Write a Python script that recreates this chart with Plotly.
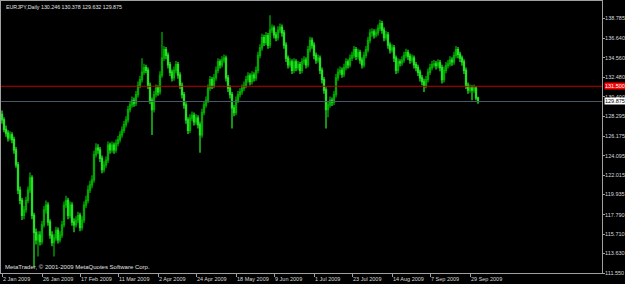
import plotly.graph_objects as go

# ---- data (bar index: daily bars incl. Sunday bars) ----
opens = [128.5,127.9,126.9,126.5,126.0,126.3,125.8,124.7,123.1,120.4,
         119.3,117.7,118.3,119.3,120.4,121.7,117.7,115.9,115.1,115.6,
         114.9,116.7,118.3,118.8,117.0,115.6,114.8,115.3,116.1,115.1,
         115.6,116.7,118.8,119.3,117.7,118.8,117.0,116.7,117.2,117.7,
         116.4,117.2,118.8,119.3,120.4,120.95,121.5,124.2,124.9,124.7,
         123.8,122.6,123.1,123.6,125.2,124.7,125.2,124.7,125.4,125.8,
         126.3,126.8,127.4,127.9,129.0,129.5,130.0,129.7,130.6,131.6,
         132.2,133.0,133.5,133.2,131.6,130.0,129.0,130.6,131.3,130.9,
         132.7,134.5,135.4,134.8,133.8,133.0,132.4,133.2,133.8,132.7,
         131.6,130.6,129.5,127.9,126.8,128.1,128.4,127.7,128.1,127.4,
         126.3,128.7,129.5,130.0,131.3,132.2,131.6,132.4,133.2,134.1,
         133.8,134.3,134.5,132.4,131.3,130.6,129.2,128.7,130.0,130.6,
         130.9,131.3,131.6,132.2,132.6,132.0,132.7,132.4,133.2,134.8,
         135.6,136.7,136.2,136.9,135.9,137.5,137.7,137.0,136.7,137.5,
         137.8,137.2,135.9,134.5,133.8,134.1,133.2,134.1,133.5,133.8,
         133.2,134.1,134.3,133.8,135.4,136.4,135.9,134.8,134.3,134.5,
         133.2,132.2,131.1,129.0,129.5,130.0,129.8,130.6,132.4,133.0,
         133.2,132.8,133.5,134.1,133.8,134.5,134.8,135.4,134.7,135.1,
         134.3,133.8,134.8,135.4,136.4,137.2,137.3,137.0,137.2,137.7,
         138.2,137.5,136.7,137.0,135.9,135.4,135.6,134.5,133.2,134.1,
         134.0,134.3,134.8,135.1,134.7,134.3,134.5,133.8,133.5,133.0,
         132.4,132.0,131.6,132.2,133.0,133.5,133.8,133.9,133.7,134.0,
         133.5,132.2,133.2,133.7,133.9,134.3,134.1,134.8,135.4,134.9,
         134.5,134.1,133.2,131.6,131.1,131.3,131.1,131.3,130.246]
highs = [128.9,128.2,127.3,126.8,126.7,126.6,126.1,125.0,123.4,120.8,
         119.6,118.7,119.7,120.8,122.3,122.0,118.0,116.3,116.0,116.0,
         117.1,118.7,119.3,119.1,117.3,116.0,115.7,116.5,116.4,116.0,
         117.1,119.2,119.8,119.6,119.2,119.1,117.4,117.6,118.1,118.0,
         117.6,119.2,119.8,120.9,121.4,122.0,124.6,125.4,125.3,125.0,
         124.1,123.5,124.0,125.6,125.5,125.6,125.5,125.8,126.2,126.7,
         127.2,127.8,128.3,129.4,129.9,130.4,130.3,131.0,132.0,132.6,
         134.5,133.9,133.8,133.5,131.9,130.3,131.0,131.7,131.6,133.1,
         137.3,135.8,135.7,135.1,134.1,133.3,133.6,134.2,134.1,133.0,
         131.9,130.9,129.8,128.2,128.5,128.8,128.7,128.5,128.4,127.7,
         129.1,129.9,130.4,131.7,132.6,132.5,132.8,133.6,134.5,134.4,
         134.7,134.9,134.8,132.7,131.6,130.9,129.5,130.4,131.0,131.3,
         131.7,132.0,132.6,133.0,132.9,133.1,133.0,133.6,135.2,136.0,
         137.1,137.0,137.3,137.2,139.1,138.1,138.0,137.3,137.9,138.2,
         138.1,137.5,136.2,134.8,134.5,134.4,134.5,134.4,134.2,134.1,
         134.5,134.7,134.6,135.8,136.8,136.7,136.2,135.1,134.9,134.8,
         133.5,132.5,131.4,129.9,130.4,130.3,131.0,132.8,133.4,133.6,
         133.5,133.9,134.5,134.4,134.9,135.2,135.8,135.7,135.5,135.4,
         134.6,135.2,135.8,136.8,137.6,137.7,137.6,137.6,138.1,138.6,
         138.5,137.8,137.4,137.3,136.2,136.0,135.9,134.8,134.5,134.4,
         134.7,135.2,135.5,135.4,135.0,134.9,134.8,134.1,133.8,133.3,
         132.7,132.3,132.6,133.4,133.9,134.2,134.3,134.2,134.4,134.3,
         133.8,133.6,134.1,134.3,134.7,134.6,135.2,135.8,135.7,135.2,
         134.8,134.4,133.5,131.9,131.7,131.6,131.7,131.5,130.378]
lows = [127.5,126.6,126.1,125.6,125.7,125.4,124.3,122.8,120.0,118.9,
        117.2,117.3,118.0,119.0,120.1,117.3,112.2,114.6,113.3,114.5,
        114.6,116.4,117.9,116.6,115.2,114.4,113.3,115.0,114.7,114.8,
        115.3,116.4,118.5,117.3,117.4,116.6,115.9,116.4,116.9,116.0,
        116.1,116.9,118.5,119.0,120.1,120.6,121.2,123.9,124.3,123.4,
        122.2,122.3,122.8,123.3,124.3,124.4,124.3,124.4,125.1,125.5,
        126.0,126.5,127.1,127.6,128.7,129.2,129.3,129.4,130.3,131.3,
        131.9,132.7,132.9,131.2,129.6,126.3,128.7,130.3,130.5,130.6,
        132.4,134.2,134.4,133.4,132.6,132.0,132.1,132.9,132.3,131.2,
        130.2,129.1,127.5,126.4,126.5,127.8,127.3,127.4,127.0,124.4,
        126.0,128.4,129.2,129.7,131.0,131.2,131.3,132.1,132.9,133.4,
        133.5,134.0,132.0,130.9,130.2,127.0,128.3,128.4,129.7,130.3,
        130.6,131.0,131.3,131.9,131.6,131.7,132.0,132.1,132.9,134.5,
        135.3,135.8,135.9,135.5,135.6,137.2,136.6,136.3,136.4,137.2,
        136.8,135.5,134.1,133.4,133.5,132.8,132.9,133.1,133.2,132.8,
        132.9,133.8,133.4,133.5,135.1,135.5,134.4,133.9,134.0,132.8,
        131.8,130.7,127.0,128.2,129.2,129.4,129.5,130.3,132.1,132.7,
        132.4,132.5,133.2,133.4,133.5,134.2,134.5,134.3,134.4,133.9,
        133.4,133.5,134.5,135.1,136.1,136.8,136.6,136.7,136.9,137.4,
        137.1,136.3,136.4,135.5,135.0,135.1,134.1,132.8,132.9,133.6,
        133.7,134.0,134.5,134.3,133.9,134.0,133.4,133.1,132.6,132.0,
        131.6,130.9,131.3,131.9,132.7,133.2,133.5,133.3,133.4,133.1,
        131.8,131.9,132.9,133.4,133.6,133.7,133.8,134.5,134.5,134.1,
        133.7,132.8,131.2,130.7,130.8,130.0,130.8,130.0,129.632]
closes = [127.9,126.9,126.5,126.0,126.3,125.8,124.7,123.1,120.4,119.3,
          117.7,118.3,119.3,120.4,121.7,117.7,115.9,115.1,115.6,114.9,
          116.7,118.3,118.8,117.0,115.6,114.8,115.3,116.1,115.1,115.6,
          116.7,118.8,119.3,117.7,118.8,117.0,116.7,117.2,117.7,116.4,
          117.2,118.8,119.3,120.4,120.95,121.5,124.2,124.9,124.7,123.8,
          122.6,123.1,123.6,125.2,124.7,125.2,124.7,125.4,125.8,126.3,
          126.8,127.4,127.9,129.0,129.5,130.0,129.7,130.6,131.6,132.2,
          133.0,133.5,133.2,131.6,130.0,129.0,130.6,131.3,130.9,132.7,
          134.5,135.4,134.8,133.8,133.0,132.4,133.2,133.8,132.7,131.6,
          130.6,129.5,127.9,126.8,128.1,128.4,127.7,128.1,127.4,126.3,
          128.7,129.5,130.0,131.3,132.2,131.6,132.4,133.2,134.1,133.8,
          134.3,134.5,132.4,131.3,130.6,129.2,128.7,130.0,130.6,130.9,
          131.3,131.6,132.2,132.6,132.0,132.7,132.4,133.2,134.8,135.6,
          136.7,136.2,136.9,135.9,137.5,137.7,137.0,136.7,137.5,137.8,
          137.2,135.9,134.5,133.8,134.1,133.2,134.1,133.5,133.8,133.2,
          134.1,134.3,133.8,135.4,136.4,135.9,134.8,134.3,134.5,133.2,
          132.2,131.1,129.0,129.5,130.0,129.8,130.6,132.4,133.0,133.2,
          132.8,133.5,134.1,133.8,134.5,134.8,135.4,134.7,135.1,134.3,
          133.8,134.8,135.4,136.4,137.2,137.3,137.0,137.2,137.7,138.2,
          137.5,136.7,137.0,135.9,135.4,135.6,134.5,133.2,134.1,134.0,
          134.3,134.8,135.1,134.7,134.3,134.5,133.8,133.5,133.0,132.4,
          132.0,131.6,132.2,133.0,133.5,133.8,133.9,133.7,134.0,133.5,
          132.2,133.2,133.7,133.9,134.3,134.1,134.8,135.4,134.9,134.5,
          134.1,133.2,131.6,131.1,131.3,131.1,131.3,130.25,129.875]

tick_bar_index = [0, 20, 39, 58, 78, 97, 117, 136, 156, 175, 195, 214, 234]
tick_dates = ["2 Jan 2009", "26 Jan 2009", "17 Feb 2009", "11 Mar 2009", "2 Apr 2009",
              "24 Apr 2009", "18 May 2009", "9 Jun 2009", "1 Jul 2009", "23 Jul 2009",
              "14 Aug 2009", "7 Sep 2009", "29 Sep 2009"]
price_labels = ["111.550", "113.630", "115.710", "117.790", "119.935", "122.015", "124.095",
                "126.175", "128.295", "130.400", "132.480", "134.560", "136.640", "138.785"]
level_red = 131.500
level_bid = 129.875
title_text = "EURJPY,Daily 130.246 130.378 129.632 129.875"
copyright_text = "MetaTrader, \u00a9 2001-2009 MetaQuotes Software Corp."

bars = list(range(len(closes)))
FONT = "Liberation Sans"

fig = go.Figure()
fig.add_trace(go.Candlestick(
    x=bars, open=opens, high=highs, low=lows, close=closes,
    increasing=dict(line=dict(color="#00a800", width=1.3), fillcolor="#007a00"),
    decreasing=dict(line=dict(color="#22e022", width=1.3), fillcolor="#55ff55"),
    whiskerwidth=0, hoverinfo="skip", showlegend=False,
))

fig.add_shape(type="line", xref="paper", x0=0, x1=1, yref="y", y0=level_red, y1=level_red,
              line=dict(color="#c00000", width=1))
fig.add_shape(type="line", xref="paper", x0=0, x1=1, yref="y", y0=level_bid, y1=level_bid,
              line=dict(color="#4a5a66", width=1))

fig.add_annotation(xref="paper", yref="y", x=1.0, y=level_red, xanchor="left", yanchor="middle",
                   text=f"{level_red:.3f}", showarrow=False, bgcolor="#ff0000",
                   font=dict(family=FONT, size=5.5, color="#ffffff"), borderpad=0, xshift=2)
fig.add_annotation(xref="paper", yref="y", x=1.0, y=level_bid, xanchor="left", yanchor="middle",
                   text=f"{level_bid:.3f}", showarrow=False, bgcolor="#ffffff",
                   font=dict(family=FONT, size=5.5, color="#000000"), borderpad=0, xshift=2)
fig.add_annotation(xref="paper", yref="paper", x=0.005, y=0.995, xanchor="left", yanchor="top",
                   text=title_text, showarrow=False,
                   font=dict(family=FONT, size=5.3, color="#e0e0e0"))
fig.add_annotation(xref="paper", yref="paper", x=0.003, y=0.005, xanchor="left", yanchor="bottom",
                   text=copyright_text, showarrow=False,
                   font=dict(family=FONT, size=6, color="#e0e0e0"))

fig.update_layout(
    width=625, height=284,
    margin=dict(l=1, r=23, t=1, b=11, autoexpand=False),
    paper_bgcolor="#000000", plot_bgcolor="#000000",
    showlegend=False,
    xaxis=dict(range=[-0.5, 300], tickvals=tick_bar_index, ticktext=tick_dates,
               ticks="outside", ticklen=3, tickcolor="#a0a0a0", tickangle=0,
               ticklabelposition="outside right", automargin=False,
               tickfont=dict(family=FONT, size=5.5, color="#d8d8d8"),
               showgrid=False, zeroline=False, showline=True, linecolor="#a0a0a0",
               linewidth=1, mirror=True, rangeslider=dict(visible=False), fixedrange=True),
    yaxis=dict(range=[111.55, 140.61], side="right", automargin=False,
               tickvals=[float(t) for t in price_labels], ticktext=price_labels,
               ticks="outside", ticklen=2, tickcolor="#a0a0a0", ticklabelstandoff=-1,
               tickfont=dict(family=FONT, size=5.5, color="#d8d8d8"),
               showgrid=False, zeroline=False, showline=True, linecolor="#a0a0a0",
               linewidth=1, mirror=True, fixedrange=True),
)

fig.write_html("out.html")
